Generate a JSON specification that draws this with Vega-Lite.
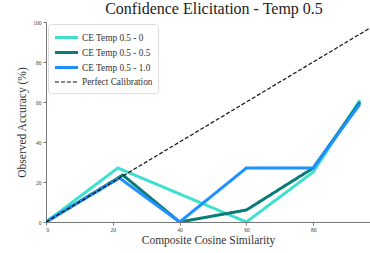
{
  "$schema": "https://vega.github.io/schema/vega-lite/v6.json",
  "width": 324,
  "height": 200,
  "autosize": {"type": "none"},
  "padding": {"left": 46, "top": 22, "right": 0, "bottom": 31},
  "background": "white",
  "title": {"text": "Confidence Elicitation - Temp 0.5", "font": "Liberation Serif", "fontSize": 16, "fontWeight": "normal", "color": "#222", "offset": 3, "dx": 6},
  "config": {
    "view": {"stroke": null},
    "axis": {"grid": false, "domainColor": "#777", "tickColor": "#777", "labelColor": "#444", "labelFont": "Liberation Serif", "labelFontSize": 5.5, "tickSize": 3, "labelPadding": 2, "titleFont": "Liberation Serif", "titleFontSize": 11.5, "titleFontWeight": "normal", "titleColor": "#333"},
    "legend": {"title": null, "orient": "none", "legendX": 2, "legendY": 2, "symbolType": "M-1.65,0H1.65", "symbolSize": 196, "symbolOffset": 5, "labelOffset": 7, "labelFont": "Liberation Serif", "labelFontSize": 9.3, "labelColor": "#333", "rowPadding": 0, "padding": 5, "strokeColor": "#ddd", "fillColor": "white", "cornerRadius": 3}
  },
  "data": {"values": [
    {"series": "CE Temp 0.5 - 0", "x": 0, "y": 0},
    {"series": "CE Temp 0.5 - 0", "x": 21.5, "y": 27},
    {"series": "CE Temp 0.5 - 0", "x": 60, "y": 0},
    {"series": "CE Temp 0.5 - 0", "x": 80, "y": 25},
    {"series": "CE Temp 0.5 - 0", "x": 94, "y": 61},
    {"series": "CE Temp 0.5 - 0.5", "x": 0, "y": 0},
    {"series": "CE Temp 0.5 - 0.5", "x": 23, "y": 23.5},
    {"series": "CE Temp 0.5 - 0.5", "x": 40, "y": 0},
    {"series": "CE Temp 0.5 - 0.5", "x": 60, "y": 6},
    {"series": "CE Temp 0.5 - 0.5", "x": 80, "y": 27},
    {"series": "CE Temp 0.5 - 0.5", "x": 94, "y": 60},
    {"series": "CE Temp 0.5 - 1.0", "x": 0, "y": 0},
    {"series": "CE Temp 0.5 - 1.0", "x": 22, "y": 22},
    {"series": "CE Temp 0.5 - 1.0", "x": 40, "y": 0},
    {"series": "CE Temp 0.5 - 1.0", "x": 60, "y": 27},
    {"series": "CE Temp 0.5 - 1.0", "x": 80, "y": 27},
    {"series": "CE Temp 0.5 - 1.0", "x": 94, "y": 59},
    {"series": "Perfect Calibration", "x": 0, "y": 0},
    {"series": "Perfect Calibration", "x": 97, "y": 97}
  ]},
  "mark": {"type": "line", "clip": true},
  "encoding": {
    "x": {"field": "x", "type": "quantitative", "scale": {"domain": [0, 97], "nice": false}, "axis": {"values": [0, 20, 40, 60, 80], "title": "Composite Cosine Similarity", "titlePadding": 2}},
    "y": {"field": "y", "type": "quantitative", "scale": {"domain": [0, 100], "nice": false}, "axis": {"values": [0, 20, 40, 60, 80, 100], "title": "Observed Accuracy (%)", "titlePadding": 5}},
    "color": {"field": "series", "type": "nominal", "scale": {"domain": ["CE Temp 0.5 - 0", "CE Temp 0.5 - 0.5", "CE Temp 0.5 - 1.0", "Perfect Calibration"], "range": ["#40E0D0", "#0b7b78", "#1E90FF", "#111111"]}},
    "strokeDash": {"field": "series", "type": "nominal", "scale": {"domain": ["CE Temp 0.5 - 0", "CE Temp 0.5 - 0.5", "CE Temp 0.5 - 1.0", "Perfect Calibration"], "range": [[1, 0], [1, 0], [1, 0], [4, 2]]}},
    "strokeWidth": {"field": "series", "type": "nominal", "scale": {"type": "ordinal", "domain": ["CE Temp 0.5 - 0", "CE Temp 0.5 - 0.5", "CE Temp 0.5 - 1.0", "Perfect Calibration"], "range": [3, 3, 3, 1.2]}}
  }
}
